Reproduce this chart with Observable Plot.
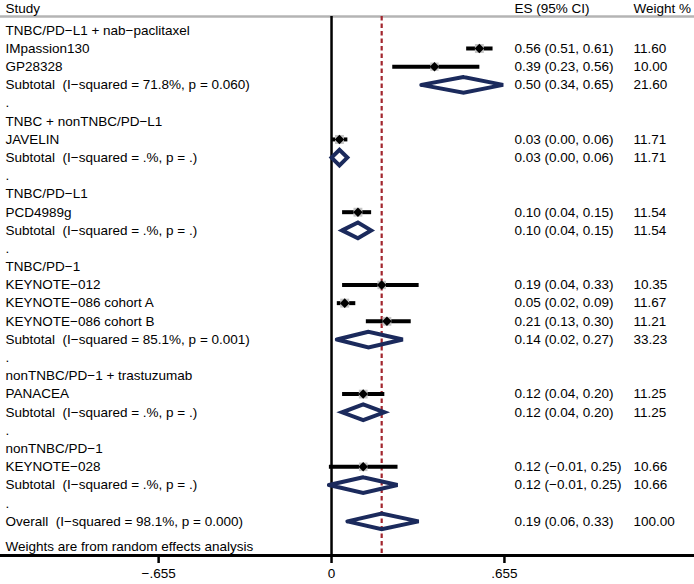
<!DOCTYPE html>
<html>
<head>
<meta charset="utf-8">
<script src="https://cdn.jsdelivr.net/npm/d3@7"></script>
<script src="https://cdn.jsdelivr.net/npm/@observablehq/plot@0.6"></script>
<style>
  html, body { margin: 0; padding: 0; background: #fff; }
  #chart svg { display: block; }
</style>
</head>
<body>
<div id="chart"></div>
<script>
// ---- data ----
const rowLabels = [
  "TNBC/PD−L1 + nab−paclitaxel", "IMpassion130", "GP28328", "Subtotal  (I−squared = 71.8%, p = 0.060)", ".",
  "TNBC + nonTNBC/PD−L1", "JAVELIN", "Subtotal  (I−squared = .%, p = .)", ".",
  "TNBC/PD−L1", "PCD4989g", "Subtotal  (I−squared = .%, p = .)", ".",
  "TNBC/PD−1", "KEYNOTE−012", "KEYNOTE−086 cohort A", "KEYNOTE−086 cohort B", "Subtotal  (I−squared = 85.1%, p = 0.001)", ".",
  "nonTNBC/PD−1 + trastuzumab", "PANACEA", "Subtotal  (I−squared = .%, p = .)", ".",
  "nonTNBC/PD−1", "KEYNOTE−028", "Subtotal  (I−squared = .%, p = .)", ".",
  "Overall  (I−squared = 98.1%, p = 0.000)"
];
// kind: g = group header, s = study, t = subtotal/overall, d = spacer
const rowKinds = [
  "g","s","s","t","d",
  "g","s","t","d",
  "g","s","t","d",
  "g","s","s","s","t","d",
  "g","s","t","d",
  "g","s","t","d",
  "t"
];
const esValues = [null,0.56,0.39,0.50,null, null,0.03,0.03,null, null,0.10,0.10,null, null,0.19,0.05,0.21,0.14,null, null,0.12,0.12,null, null,0.12,0.12,null, 0.19];
const loValues = [null,0.51,0.23,0.34,null, null,0.00,0.00,null, null,0.04,0.04,null, null,0.04,0.02,0.13,0.02,null, null,0.04,0.04,null, null,-0.01,-0.01,null, 0.06];
const hiValues = [null,0.61,0.56,0.65,null, null,0.06,0.06,null, null,0.15,0.15,null, null,0.33,0.09,0.30,0.27,null, null,0.20,0.20,null, null,0.25,0.25,null, 0.33];
const weightValues = [null,11.60,10.00,21.60,null, null,11.71,11.71,null, null,11.54,11.54,null, null,10.35,11.67,11.21,33.23,null, null,11.25,11.25,null, null,10.66,10.66,null, 100.00];
const headerLabels = ["Study", "ES (95% CI)", "Weight %"];
const noteText = "Weights are from random effects analysis";
const xTicks = [-0.655, 0, 0.655];
const xTickLabels = ["−.655", "0", ".655"];
const overallES = 0.19;

// ---- build tables ----
const fmt = v => (v < 0 ? "−" : "") + Math.abs(v).toFixed(2);
const rows = rowLabels.map((label, i) => ({
  label, kind: rowKinds[i], r: i,
  es: esValues[i], lo: loValues[i], hi: hiValues[i], w: weightValues[i],
  esText: esValues[i] == null ? "" : `${fmt(esValues[i])} (${fmt(loValues[i])}, ${fmt(hiValues[i])})`,
  wText: weightValues[i] == null ? "" : weightValues[i].toFixed(2)
}));
const studies = rows.filter(d => d.kind === "s");
const pooled = rows.filter(d => d.kind === "t");
const h = 0.43;
const diamonds = pooled.flatMap(d => [
  {id: d.r, x: d.lo, y: d.r},
  {id: d.r, x: d.es, y: d.r - h},
  {id: d.r, x: d.hi, y: d.r},
  {id: d.r, x: d.es, y: d.r + h},
  {id: d.r, x: d.lo, y: d.r},
  {id: d.r, x: d.es, y: d.r - h}
]);

const yTop = -0.76, yBottom = 28.874, yHeader = -1.2, yNote = 28.38;
const font = "'Liberation Sans', Arial, sans-serif";
const navy = "#1b2a5c";

const chart = Plot.plot({
  width: 694, height: 584,
  marginLeft: 0, marginRight: 0, marginTop: 0, marginBottom: 29,
  style: {fontFamily: font, fontSize: "13.5px", color: "black", background: "white"},
  x: {domain: [-1.254, 1.375]},
  y: {domain: [yBottom, -1.638], axis: null},
  r: {type: "identity"},
  marks: [
    // top separator
    Plot.ruleY([yTop], {stroke: "#b4b4b4", strokeWidth: 2.5}),
    // reference lines
    Plot.ruleX([overallES], {y1: yTop, y2: yBottom, stroke: "#a3262e", strokeWidth: 2.2, strokeDasharray: "4.5,3"}),
    Plot.ruleX([0], {y1: yTop, y2: yBottom, stroke: "black", strokeWidth: 2.5}),
    // study CIs
    Plot.link(studies, {x1: "lo", x2: "hi", y1: "r", y2: "r", stroke: "black", strokeWidth: 4}),
    Plot.dot(studies, {x: "es", y: "r", symbol: "square", r: d => 5.0 * Math.sqrt(d.w / 11.5), fill: "#c4c4c4", stroke: "none"}),
    Plot.dot(studies, {x: "es", y: "r", symbol: "diamond2", r: 4.3, fill: "black", stroke: "none"}),
    // pooled diamonds
    Plot.line(diamonds, {x: "x", y: "y", z: "id", stroke: navy, strokeWidth: 4, strokeMiterlimit: 4, strokeLinejoin: "miter", curve: "linear"}),
    // text columns
    Plot.text(headerLabels, {text: d => d, y: () => yHeader, frameAnchor: "left", textAnchor: "start", fill: "black"}),
    Plot.text(rows, {text: "label", y: "r", frameAnchor: "left", dx: 5, textAnchor: "start", fill: "black"}),
    Plot.text(rows, {text: "esText", y: "r", frameAnchor: "left", dx: 514, textAnchor: "start", fill: "black"}),
    Plot.text(rows, {text: "wText", y: "r", frameAnchor: "left", dx: 633, textAnchor: "start", fill: "black"}),
    Plot.text([noteText], {text: d => d, y: () => yNote, frameAnchor: "left", dx: 5, textAnchor: "start", fill: "black"}),
    // bottom axis
    Plot.ruleY([yBottom], {stroke: "black", strokeWidth: 3}),
    Plot.axisX({ticks: xTicks, tickFormat: d => xTickLabels[xTicks.indexOf(d)], tickSize: 8, strokeWidth: 2.5, tickPadding: 5, fontSize: 13.5, fill: "black"})
  ]
});
document.getElementById("chart").append(chart);
// place header columns individually
const hdr = chart.querySelectorAll("g[aria-label='text']")[0].querySelectorAll("text");
const hdrDx = [5, 514, 633];
hdr.forEach((t, i) => {
  const tr = t.getAttribute("transform") || "";
  t.setAttribute("transform", tr.replace(/translate\(([-\d.]+),/, (m, x) => `translate(${parseFloat(x) + hdrDx[i]},`));
});
</script>
</body>
</html>
